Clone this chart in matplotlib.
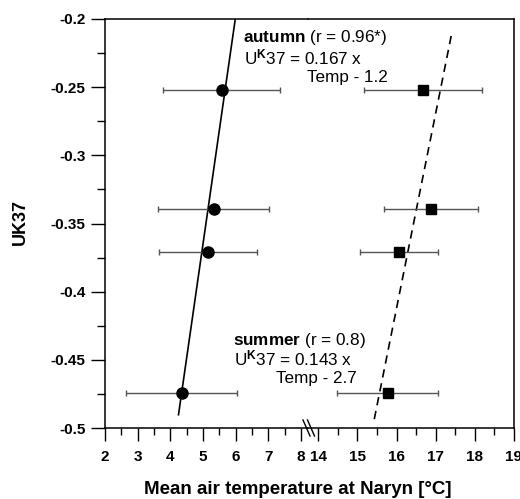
import matplotlib.pyplot as plt
import numpy as np
from matplotlib.lines import Line2D
from matplotlib.ticker import MultipleLocator, FuncFormatter

plt.rcParams['font.family'] = ['Liberation Sans', 'DejaVu Sans']
plt.rcParams['font.weight'] = 'bold'
plt.rcParams['axes.unicode_minus'] = False
plt.rcParams['mathtext.fontset'] = 'custom'
plt.rcParams['mathtext.rm'] = 'Liberation Sans'
plt.rcParams['mathtext.bf'] = 'Liberation Sans:bold'
plt.rcParams['mathtext.it'] = 'Liberation Sans:italic'

# UK37 index of the four samples
uk37 = [-0.252, -0.339, -0.371, -0.474]

# mean autumn / summer air temperature with standard deviation
autumn_temp = [5.57, 5.33, 5.16, 4.35]
autumn_err = [1.80, 1.70, 1.50, 1.70]
summer_temp = [16.67, 16.87, 16.06, 15.77]
summer_err = [1.50, 1.20, 1.00, 1.28]

# regressions UK37 = slope * Temp + intercept
autumn_fit = (0.167, -1.2)
summer_fit = (0.143, -2.7)
autumn_fit_x = [4.25, 6.0]
summer_fit_x = [15.43, 17.4]

W, H = 520, 499
fig = plt.figure(figsize=(W / 100, H / 100), dpi=100)

# broken x axis: two panels side by side
ax1 = fig.add_axes([105 / W, 71 / H, 203 / W, 409 / H])
ax2 = fig.add_axes([308 / W, 71 / H, 206 / W, 409 / H], sharey=ax1)

ax1.set_xlim(2, 8.214)
ax2.set_xlim(13.737, 19)
ax1.set_ylim(-0.5, -0.2)

ebar = dict(ecolor='#555555', elinewidth=1, capsize=2, capthick=1,
            color='black', linestyle='none', zorder=3)
ax1.errorbar(autumn_temp, uk37, xerr=autumn_err, marker='o', ms=8, **ebar)
ax2.errorbar(summer_temp, uk37, xerr=summer_err, marker='s', ms=7.5, **ebar)

xs = np.array(autumn_fit_x)
ax1.plot(xs, autumn_fit[0] * xs + autumn_fit[1], color='black', lw=1.2)
xs = np.array(summer_fit_x)
ax2.plot(xs, summer_fit[0] * xs + summer_fit[1], color='black', lw=1.2,
         linestyle=(0, (5, 3.5)))

for ax in (ax1, ax2):
    ax.xaxis.set_major_locator(MultipleLocator(1))
    ax.xaxis.set_minor_locator(MultipleLocator(0.5))
    ax.tick_params(axis='x', which='major', length=9.5, width=1, pad=6, labelsize=11)
    ax.tick_params(axis='x', which='minor', length=5, width=1)
    for s in ax.spines.values():
        s.set_linewidth(1.1)

ax1.yaxis.set_major_locator(MultipleLocator(0.05))
ax1.yaxis.set_minor_locator(MultipleLocator(0.025))
ax1.yaxis.set_major_formatter(FuncFormatter(lambda v, p: f'{v:g}'))
ax1.tick_params(axis='y', which='major', length=10, width=1, pad=4, labelsize=11)
ax1.tick_params(axis='y', which='minor', length=5.5, width=1)
ax1.spines['right'].set_visible(False)
ax2.spines['left'].set_visible(False)
ax2.tick_params(axis='y', which='both', left=False, labelleft=False)

# break marks on the x axis
for dx in (0, 4.5):
    fig.add_artist(Line2D([(303 + dx) / W, (310 + dx) / W],
                          [1 - 420 / H, 1 - 436 / H], color='black', lw=1))

fs = 12.3
fig.text(243 / W, 1 - 42.3 / H, r'$\mathbf{autumn}$ (r = 0.96*)',
         fontsize=fs, fontweight='normal', va='baseline')
fig.text(244 / W, 1 - 64 / H, r'U$^{\mathrm{K}}$37 = 0.167 x',
         fontsize=fs, fontweight='normal', va='baseline')
fig.text(306.7 / W, 1 - 82.3 / H, 'Temp - 1.2',
         fontsize=fs, fontweight='normal', va='baseline')

fig.text(233.3 / W, 1 - 345 / H, r'$\mathbf{summer}$ (r = 0.8)',
         fontsize=fs, fontweight='normal', va='baseline')
fig.text(233.5 / W, 1 - 365 / H, r'U$^{\mathrm{K}}$37 = 0.143 x',
         fontsize=fs, fontweight='normal', va='baseline')
fig.text(276 / W, 1 - 383 / H, 'Temp - 2.7',
         fontsize=fs, fontweight='normal', va='baseline')

fig.text(298 / W, 1 - 489 / H, 'Mean air temperature at Naryn [°C]',
         fontsize=13.5, ha='center', va='center')
fig.text(20 / W, 1 - 222 / H, 'UK37', fontsize=13, rotation=90,
         ha='center', va='center')

fig.savefig('out.png', dpi=100)
